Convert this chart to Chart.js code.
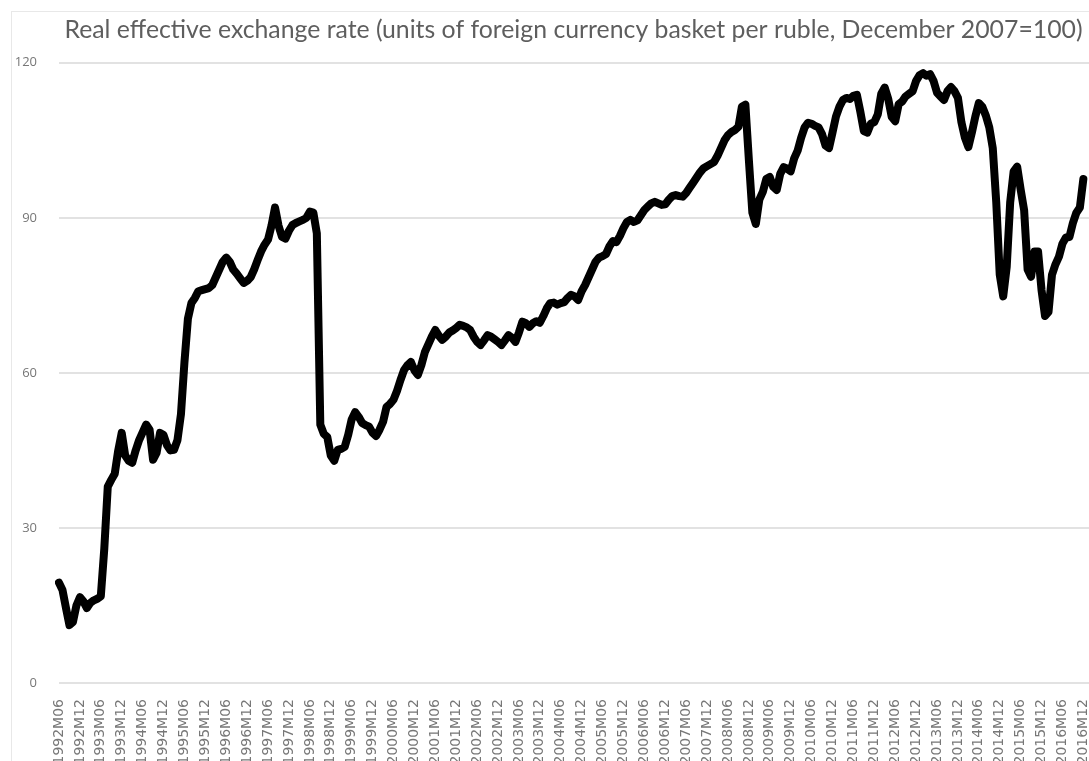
<!DOCTYPE html>
<html><head><meta charset="utf-8">
<script src="https://cdn.jsdelivr.net/npm/chart.js@4.4.1/dist/chart.umd.min.js"></script>
<style>
html,body{margin:0;padding:0;background:#fff;overflow:hidden;width:1089px;height:761px;}
#frame{position:absolute;left:11px;top:11px;width:1300px;height:900px;border-left:1px solid #e8e8e8;border-top:1px solid #e8e8e8;}
#c{position:absolute;left:0;top:0;}
</style></head><body>
<div id="frame"></div>
<canvas id="c" width="1150" height="800"></canvas>
<script>
const titleText = 'Real effective exchange rate (units of foreign currency basket per ruble, December 2007=100)';
const startYear = 1992;
const startMonth = 6;
const categoryCount = 311;
const labelEvery = 6;
const yTicks = [0, 30, 60, 90, 120];

const y1992_1994 = [19.4, 18, 14.5, 11.2, 11.8, 15, 16.6,
  15.8, 14.5, 15.5, 16, 16.3, 16.8, 26, 38, 39.3, 40.5, 45, 48.4,
  44, 43, 42.6, 45, 47, 48.5, 50, 49, 43.2, 44.5, 48.4, 48];
const y1995_1997 = [46, 45, 45.1, 47, 52, 62, 70.5, 73.5, 74.5, 75.8, 76, 76.2,
  76.4, 77, 78.5, 80, 81.5, 82.3, 81.5, 80, 79.2, 78.3, 77.4, 77.8,
  78.5, 80, 81.8, 83.5, 84.8, 85.8, 88.5, 92, 88.5, 86.3, 86, 87.5];
const y1998_2000 = [88.6, 89, 89.3, 89.6, 90, 91.2, 91, 87, 50, 48.2, 47.6, 44,
  43, 45.1, 45.3, 45.7, 48, 51, 52.4, 51.5, 50.3, 49.9, 49.6, 48.4,
  47.8, 49, 50.5, 53.4, 54, 54.8, 56.5, 58.6, 60.5, 61.5, 62.1, 60.5];
const y2001_2003 = [59.6, 61.5, 64, 65.5, 67, 68.3, 67.2, 66.4, 67, 67.8, 68.2, 68.7,
  69.3, 69.1, 68.8, 68.3, 67, 66, 65.4, 66.3, 67.3, 67, 66.5, 66,
  65.4, 66.3, 67.3, 66.8, 66, 67.8, 69.9, 69.6, 68.9, 69.6, 70, 69.7];
const y2004_2006 = [71, 72.5, 73.5, 73.6, 73.2, 73.5, 73.7, 74.5, 75.1, 74.8, 74.1, 75.8,
  77, 78.5, 80, 81.5, 82.3, 82.6, 83, 84.5, 85.5, 85.3, 86.5, 88,
  89.2, 89.6, 89.2, 89.5, 90.5, 91.5, 92.2, 92.8, 93.1, 92.8, 92.5, 92.6];
const y2007_2009 = [93.5, 94.2, 94.4, 94.2, 94.1, 94.8, 95.8, 96.8, 97.8, 98.8, 99.6, 100,
  100.4, 100.8, 102, 103.5, 105, 106, 106.6, 107, 107.6, 111.5, 111.9, 101.2,
  91, 88.8, 93.5, 95, 97.5, 97.9, 96, 95.4, 98.5, 99.8, 99.5, 99];
const y2010_2012 = [101.5, 103, 105.5, 107.5, 108.4, 108.2, 107.8, 107.5, 106.2, 104, 103.5, 106.5,
  109.6, 111.5, 112.8, 113.2, 113, 113.6, 113.8, 110.5, 106.8, 106.5, 108.2, 108.5,
  110, 114, 115.2, 113, 109.5, 108.7, 112, 112.5, 113.5, 114, 114.5, 116.5];
const y2013_2016 = [117.6, 118, 117.5, 117.8, 116.5, 114.2, 113.5, 112.8, 114.5, 115.3, 114.5, 113.2,
  108.5, 105.5, 103.7, 106.5, 109.6, 112.2, 111.5, 109.8, 107.5, 103.5, 93, 79,
  74.8, 80.5, 93, 99, 99.9, 95.5, 91.5, 80, 78.6, 83.5, 83.5, 76,
  71, 71.8, 79, 81, 82.5, 85, 86.2, 86.3, 89, 91, 92, 97.5];

const reer = [].concat(y1992_1994, y1995_1997, y1998_2000, y2001_2003, y2004_2006, y2007_2009, y2010_2012, y2013_2016);

const categories = [];
for (let k = 0; k < categoryCount; k++) {
  const m = startMonth - 1 + k;
  const yr = startYear + Math.floor(m / 12);
  const mo = (m % 12) + 1;
  categories.push(yr + 'M' + (mo < 10 ? '0' + mo : '' + mo));
}

new Chart(document.getElementById('c').getContext('2d'), {
  type: 'line',
  data: {
    labels: categories,
    datasets: [{
      data: reer,
      borderColor: '#000000',
      borderWidth: 8,
      pointRadius: 0,
      tension: 0,
      fill: false,
      borderJoinStyle: 'round',
      borderCapStyle: 'round'
    }]
  },
  options: {
    responsive: false,
    animation: false,
    devicePixelRatio: 1,
    layout: { padding: { left: 0, right: 3, top: 0, bottom: 0 } },
    plugins: {
      legend: { display: false },
      tooltip: { enabled: false },
      title: {
        display: true,
        text: titleText,
        color: '#5e5e5e',
        font: { family: 'Lato', size: 24.8, weight: 'normal' },
        padding: { top: 15, bottom: 18 }
      }
    },
    scales: {
      x: {
        grid: { display: false },
        border: { display: false },
        ticks: {
          autoSkip: false,
          minRotation: 90,
          maxRotation: 90,
          color: '#777777',
          font: { family: 'DejaVu Sans', size: 14 },
          padding: 8,
          callback: function (v, i) { return i % labelEvery === 0 ? this.getLabelForValue(v) : null; }
        },
        afterFit: function (s) { s.height = 117; }
      },
      y: {
        min: yTicks[0],
        max: yTicks[yTicks.length - 1],
        border: { display: false },
        grid: { color: '#e2e2e2', lineWidth: 2, drawTicks: false },
        ticks: {
          stepSize: yTicks[1] - yTicks[0],
          color: '#777777',
          font: { family: 'Open Sans', size: 13 },
          padding: 22
        },
        afterFit: function (s) { s.width = 59; }
      }
    }
  }
});
</script>
</body></html>
